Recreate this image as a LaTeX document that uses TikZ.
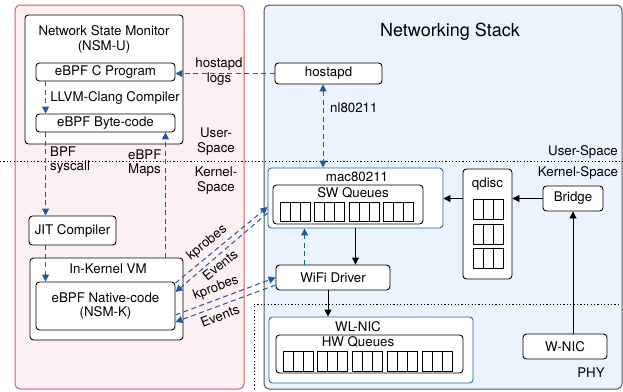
\documentclass[tikz,border=0pt]{standalone}
\usepackage{fontspec}
\setmainfont{TeX Gyre Heros}
\usetikzlibrary{arrows.meta,calc}
\definecolor{pinkfill}{RGB}{253,240,242}
\definecolor{pinkline}{RGB}{214,88,98}
\definecolor{bluefill}{RGB}{235,243,252}
\definecolor{panelline}{RGB}{85,85,85}
\definecolor{boxblue}{RGB}{40,100,162}
\definecolor{arrblue}{RGB}{30,90,155}
\begin{document}
\begin{tikzpicture}[x=1pt,y=-1pt,
  font=\fontsize{13.3}{14.5}\selectfont,
  panel/.style={draw, rounded corners=5pt, line width=1pt, inner sep=0pt},
  box/.style={draw=black, fill=white, rounded corners=3.5pt, line width=0.9pt, inner sep=0pt, align=center},
  bluebox/.style={box, draw=boxblue},
  txt/.style={inner sep=0pt, align=center},
  ltxt/.style={inner sep=0pt, align=left},
  darr/.style={draw=arrblue, line width=1pt, dash pattern=on 5pt off 3.5pt, -{Triangle[length=7pt,width=7pt]}},
  dbarr/.style={draw=arrblue, line width=1pt, dash pattern=on 5pt off 3.5pt, {Triangle[length=7pt,width=7pt]}-{Triangle[length=7pt,width=7pt]}},
  sarr/.style={draw=black, line width=0.9pt, -{Triangle[length=7pt,width=7pt]}},
  dotline/.style={line width=1pt, dash pattern=on 1.2pt off 2.2pt},
  cell/.style={draw=black, line width=0.8pt}
]
\useasboundingbox (0,0) rectangle (623,391);

% panels
\node[panel, draw=pinkline, fill=pinkfill, minimum width=229pt, minimum height=384pt] (leftpanel) at (129.5,197) {};
\node[panel, draw=panelline, fill=bluefill, minimum width=358pt, minimum height=384pt] (rightpanel) at (443,197) {};

% user/kernel line
\draw[dotline] (0,161) -- (623,161);
% PHY region
\draw[dotline] (254,389) -- (254,304) -- (621,304);

% ---------- left side ----------
\node[box, minimum width=158pt, minimum height=129pt] (nsmu) at (104,79.5) {};
\node[txt] (nsmutitle) at (104,39.5) {Network State Monitor\\(NSM-U)};
\node[box, minimum width=139pt, minimum height=18pt] (cprog) at (105.5,72) {eBPF C Program};
\node[txt] (llvm) at (115,98) {LLVM-Clang Compiler};
\node[box, minimum width=139pt, minimum height=18pt] (bytecode) at (105.5,123) {eBPF Byte-code};

\node[box, minimum width=87pt, minimum height=29pt] (jit) at (72.5,230.5) {JIT Compiler};
\node[box, minimum width=153pt, minimum height=82pt] (vm) at (106.5,299) {};
\node[txt] (vmtitle) at (108,269) {In-Kernel VM};
\node[box, minimum width=139pt, minimum height=48pt] (native) at (105.5,306) {eBPF Native-code\\(NSM-K)};

\node[ltxt, anchor=west] (bpfsys) at (50,160) {BPF\\syscall};
\node[ltxt, anchor=west] (maps) at (128,163) {eBPF\\Maps};
\node[txt] (userl) at (216,141.5) {User-\\Space};
\node[txt] (kernl) at (216,180.5) {Kernel-\\Space};
\node[txt] (logs) at (219,71.5) {hostapd\\logs};

% left arrows
\draw[darr] ([xshift=10pt]cprog.south west) -- ([xshift=10pt]bytecode.north west);
\draw[darr] ([xshift=10pt]bytecode.south west) -- ([xshift=10pt]bytecode.south west |- jit.north);
\draw[darr] ([xshift=10pt]bytecode.south west |- jit.south) -- ([xshift=10pt]native.north west);
\draw[darr] ([xshift=-18pt]vm.north east) -- ([xshift=-18pt]vm.north east |- bytecode.south);

% ---------- right side ----------
\node[txt, font=\fontsize{18}{20}\selectfont] (nstitle) at (450,32) {Networking Stack};
\node[box, minimum width=107pt, minimum height=21pt] (hostapd) at (328.5,73.5) {hostapd};
\node[ltxt, anchor=west] (nl) at (330,108) {nl80211};
\node[txt] (userr) at (583,152) {User-Space};
\node[txt] (kernr) at (578,173) {Kernel-Space};

\node[bluebox, minimum width=175pt, minimum height=60pt] (mac) at (355.5,198) {};
\node[txt] (mactitle) at (357,177) {mac80211};
\node[box, minimum width=150pt, minimum height=39pt] (swq) at (348,204.5) {};
\node[txt] (swqtitle) at (353,193) {SW Queues};
\foreach \gx in {280,314,349,383}{\foreach \i in {0,1,2}{\draw[cell] (\gx+\i*10,202) rectangle ++(10,19);}}

\node[box, minimum width=49pt, minimum height=110pt] (qdisc) at (487.5,224) {};
\node[txt] (qdisctitle) at (487.5,184) {qdisc};
\foreach \gy in {199,224,248}{\foreach \i in {0,1,2}{\draw[cell] (473+\i*10,\gy) rectangle ++(10,20);}}

\node[box, minimum width=60pt, minimum height=25pt] (bridge) at (573,198.5) {Bridge};
\node[box, minimum width=84pt, minimum height=25pt] (wnic) at (565,346.5) {W-NIC};
\node[box, minimum width=114pt, minimum height=25pt] (wifi) at (333,277.5) {WiFi Driver};

\node[bluebox, minimum width=204pt, minimum height=66pt] (wlnic) at (371,350) {};
\node[txt] (wltitle) at (358,327) {WL-NIC};
\node[box, minimum width=187pt, minimum height=38pt] (hwq) at (369.5,354) {};
\node[txt] (hwtitle) at (358,342) {HW Queues};
\foreach \gx in {283,317,352,387,422}{\foreach \i in {0,1,2}{\draw[cell] (\gx+\i*10,351) rectangle ++(10,20);}}

\node[txt] (phy) at (591,373) {PHY};

% right arrows
\draw[darr] (hostapd.west) -- (hostapd.west -| cprog.east);
\draw[dbarr] ([xshift=-5.5pt]hostapd.south) -- ([xshift=-5.5pt]hostapd.south |- mac.north);
\draw[sarr] (bridge.west) -- (bridge.west -| qdisc.east);
\draw[sarr] (qdisc.west |- bridge.west) -- (mac.east |- bridge.west);
\draw[sarr] (bridge.south |- wnic.north) -- (bridge.south);
\draw[sarr] (mac.south) -- (mac.south |- wifi.north);
\draw[darr] ([xshift=29pt]wifi.north west) -- ([xshift=29pt]wifi.north west |- mac.south);
\draw[sarr] ([xshift=-5pt]wifi.south) -- ([xshift=-5pt]wifi.south |- wlnic.north);

% kprobes / events
\draw[darr] ([yshift=23pt]native.east) -- ([yshift=-9pt]mac.west);
\draw[darr] ([yshift=-15pt]mac.west) -- ([yshift=14pt]native.east);
\draw[darr] ([yshift=-9pt]native.east) -- (wifi.west);
\draw[darr] ([yshift=-7.5pt]wifi.west) -- ([yshift=-16pt]native.east);
\node[txt, rotate=39] (kp1) at (207,243) {kprobes};
\node[txt, rotate=39] (ev1) at (220,265) {Events};
\node[txt, rotate=21] (kp2) at (216,288) {kprobes};
\node[txt, rotate=21] (ev2) at (220,316) {Events};
\end{tikzpicture}
\end{document}
